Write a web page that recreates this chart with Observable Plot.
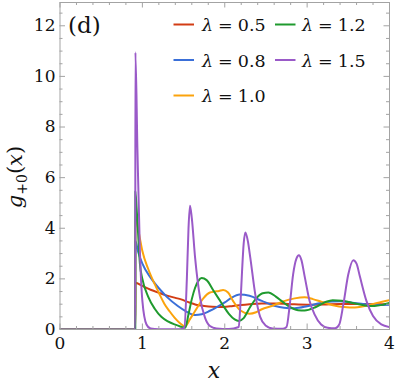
<!DOCTYPE html>
<html><head><meta charset="utf-8">
<script src="https://cdn.jsdelivr.net/npm/d3@7"></script>
<script src="https://cdn.jsdelivr.net/npm/@observablehq/plot@0.6"></script>
<style>body{margin:0;background:#fff}#chart{position:relative;width:395px;height:382px}
#chart svg text, #chart svg tspan{font-family:"DejaVu Serif",serif !important}</style>
</head><body>
<div id="chart"></div>
<script>
// series labels and colours
const lambdas = ["0.5", "0.8", "1.0", "1.2", "1.5"];
const colors = ["#d23c14", "#3a6fd8", "#fba30c", "#1f9a2e", "#9a5ac8"];

// g_{+0}(x), [x, y]
const g05 = [[0,0],[0.914,0],[0.915,1.85],[1.0,1.72],[1.1,1.57],[1.2,1.45],[1.3,1.34],[1.4,1.25],[1.47,1.19],[1.55,1.09],[1.65,0.98],[1.75,0.93],[1.85,0.9],[1.98,0.89],[2.1,0.93],[2.2,0.97],[2.3,1.0],[2.45,1.03],[2.6,1.03],[2.8,1.0],[3.0,0.98],[3.2,0.99],[3.4,1.01],[3.6,1.01],[3.8,1.0],[4.0,1.0]];
const g08 = [[0,0],[0.914,0],[0.915,3.5],[0.95,3.05],[1.0,2.6],[1.1,2.05],[1.23,1.52],[1.3,1.28],[1.43,0.93],[1.53,0.72],[1.64,0.57],[1.72,0.6],[1.82,0.74],[1.9,0.88],[2.0,1.07],[2.08,1.25],[2.18,1.38],[2.3,1.33],[2.45,1.13],[2.6,0.94],[2.72,0.86],[2.85,0.84],[3.0,0.92],[3.15,1.04],[3.3,1.11],[3.4,1.12],[3.55,1.06],[3.7,1.0],[3.85,0.97],[4.0,0.98]];
const g10 = [[0,0],[0.914,0],[0.915,4.6],[0.95,3.95],[0.97,3.6],[1.0,3.1],[1.07,2.4],[1.15,1.79],[1.2,1.45],[1.27,1.0],[1.33,0.72],[1.39,0.47],[1.45,0.27],[1.52,0.13],[1.58,0.42],[1.64,0.73],[1.74,1.23],[1.82,1.46],[1.88,1.5],[1.93,1.52],[1.98,1.56],[2.04,1.46],[2.1,1.13],[2.19,0.75],[2.3,0.62],[2.38,0.68],[2.45,0.8],[2.57,0.93],[2.7,1.1],[2.85,1.23],[2.97,1.27],[3.07,1.2],[3.17,1.1],[3.3,0.97],[3.48,0.88],[3.55,0.87],[3.7,0.93],[3.85,1.05],[4.0,1.16]];
const g12 = [[0,0],[0.914,0],[0.915,5.45],[0.93,4.8],[0.95,3.7],[0.97,2.6],[1.0,2.0],[1.07,1.3],[1.15,0.82],[1.23,0.5],[1.31,0.32],[1.39,0.2],[1.46,0.12],[1.52,0.07],[1.56,0.6],[1.6,1.2],[1.64,1.65],[1.68,1.92],[1.72,2.03],[1.78,1.95],[1.86,1.55],[1.93,1.2],[1.98,0.95],[2.05,0.62],[2.12,0.4],[2.17,0.34],[2.23,0.45],[2.31,0.9],[2.39,1.26],[2.46,1.43],[2.53,1.46],[2.62,1.3],[2.7,1.1],[2.77,0.93],[2.89,0.76],[2.97,0.75],[3.1,0.88],[3.22,1.08],[3.31,1.16],[3.42,1.14],[3.55,1.05],[3.7,0.95],[3.82,0.93],[3.92,0.98],[4.0,1.05]];
const g15 = [[0,0],[0.914,0],[0.915,10.95],[0.94,7.1],[0.97,3.1],[1.0,1.13],[1.05,0.2],[1.1,0.04],[1.2,0.01],[1.45,0.01],[1.51,0.08],[1.54,2.0],[1.56,4.0],[1.578,4.89],[1.6,4.4],[1.64,2.84],[1.7,1.26],[1.76,0.47],[1.82,0.14],[1.9,0.04],[2.05,0.02],[2.17,0.1],[2.19,1.0],[2.21,2.3],[2.23,3.4],[2.25,3.83],[2.28,3.5],[2.31,2.84],[2.37,1.4],[2.43,0.5],[2.5,0.15],[2.58,0.04],[2.7,0.03],[2.75,0.1],[2.79,1.0],[2.83,2.18],[2.87,2.8],[2.9,2.93],[2.93,2.75],[2.97,2.1],[3.03,1.13],[3.09,0.6],[3.17,0.2],[3.25,0.07],[3.34,0.05],[3.39,0.2],[3.44,1.0],[3.5,2.18],[3.56,2.74],[3.6,2.6],[3.64,2.1],[3.72,1.13],[3.8,0.53],[3.9,0.2],[4.0,0.1]];

// axes
const xTicks = [0, 1, 2, 3, 4];
const yTicks = [0, 2, 4, 6, 8, 10, 12];
const xMinor = [0.2,0.4,0.6,0.8,1.2,1.4,1.6,1.8,2.2,2.4,2.6,2.8,3.2,3.4,3.6,3.8];
const yMinor = [0.5,1,1.5,2.5,3,3.5,4.5,5,5.5,6.5,7,7.5,8.5,9,9.5,10.5,11,11.5,12.5];

const series = [g05, g08, g10, g12, g15];
const rows = series.flatMap((s, i) => s.map(([x, y]) => ({x, y, lambda: lambdas[i]})));

const W = 395, H = 382, mL = 59.5, mR = 6, mT = 2, mB = 53;
const fw = W - mL - mR, fh = H - mT - mB;
const fc = "#a3a3a3";
const maj = 5.5, mino = 3;
const serif = "'DejaVu Serif',serif";

const svg = Plot.plot({
  width: W, height: H,
  marginLeft: mL, marginRight: mR, marginTop: mT, marginBottom: mB,
  style: {fontFamily: serif, fontSize: "17px", color: "#111", background: "#fff"},
  x: {domain: [0, 4]},
  y: {domain: [0, 12.92]},
  color: {domain: lambdas, range: colors},
  marks: [
    Plot.line(rows, {x: "x", y: "y", z: "lambda", stroke: "lambda", strokeWidth: 2, curve: "monotone-x", clip: true}),
    Plot.frame({stroke: fc}),
    Plot.tickX(xTicks, {x: d => d, stroke: fc, insetTop: fh - maj}),
    Plot.tickX(xTicks, {x: d => d, stroke: fc, insetBottom: fh - maj}),
    Plot.tickX(xMinor, {x: d => d, stroke: fc, insetTop: fh - mino}),
    Plot.tickX(xMinor, {x: d => d, stroke: fc, insetBottom: fh - mino}),
    Plot.tickY(yTicks, {y: d => d, stroke: fc, insetRight: fw - maj}),
    Plot.tickY(yTicks, {y: d => d, stroke: fc, insetLeft: fw - maj}),
    Plot.tickY(yMinor, {y: d => d, stroke: fc, insetRight: fw - mino}),
    Plot.tickY(yMinor, {y: d => d, stroke: fc, insetLeft: fw - mino}),
    Plot.axisX({ticks: xTicks, tickSize: 0, tickPadding: 7, tickFormat: d => String(d), label: null}),
    Plot.axisY({ticks: yTicks, tickSize: 0, tickPadding: 4.5, tickFormat: d => String(d), label: null})
  ]
});
document.getElementById("chart").appendChild(svg);

const s = d3.select(svg);
const ann = s.append("g").attr("fill", "#111").attr("font-family", serif).attr("text-anchor", "start");

// panel tag
ann.append("text").attr("x", 68).attr("y", 32.5).attr("font-size", 23).text("(d)");

// legend
const colX = [173.5, 275], txtX = [202, 302], base = [31, 66.5, 102];
lambdas.forEach((l, i) => {
  const c = i < 3 ? 0 : 1, r = i < 3 ? i : i - 3;
  const b = base[r];
  ann.append("line").attr("x1", colX[c]).attr("x2", colX[c] + 20.5)
    .attr("y1", b - 6.5).attr("y2", b - 6.5).attr("stroke", colors[i]).attr("stroke-width", 2);
  const t = ann.append("text").attr("x", txtX[c]).attr("y", b).attr("font-size", 17.5);
  t.append("tspan").attr("font-style", "italic").text("λ");
  t.append("tspan").attr("dx", 5).text("=");
  t.append("tspan").attr("dx", 5).text(l);
});

// axis labels
ann.append("text").attr("x", 214).attr("y", 378).attr("text-anchor", "middle")
  .attr("font-size", 22).attr("font-style", "italic").text("x");
const yl = ann.append("text").attr("transform", "translate(21.5,177) rotate(-90)")
  .attr("text-anchor", "middle").attr("font-size", 21);
yl.append("tspan").attr("font-style", "italic").text("g");
yl.append("tspan").attr("font-size", 14).attr("dy", 5).text("+0");
yl.append("tspan").attr("dy", -5).text("(");
yl.append("tspan").attr("font-style", "italic").text("x");
yl.append("tspan").text(")");
</script>
</body></html>
